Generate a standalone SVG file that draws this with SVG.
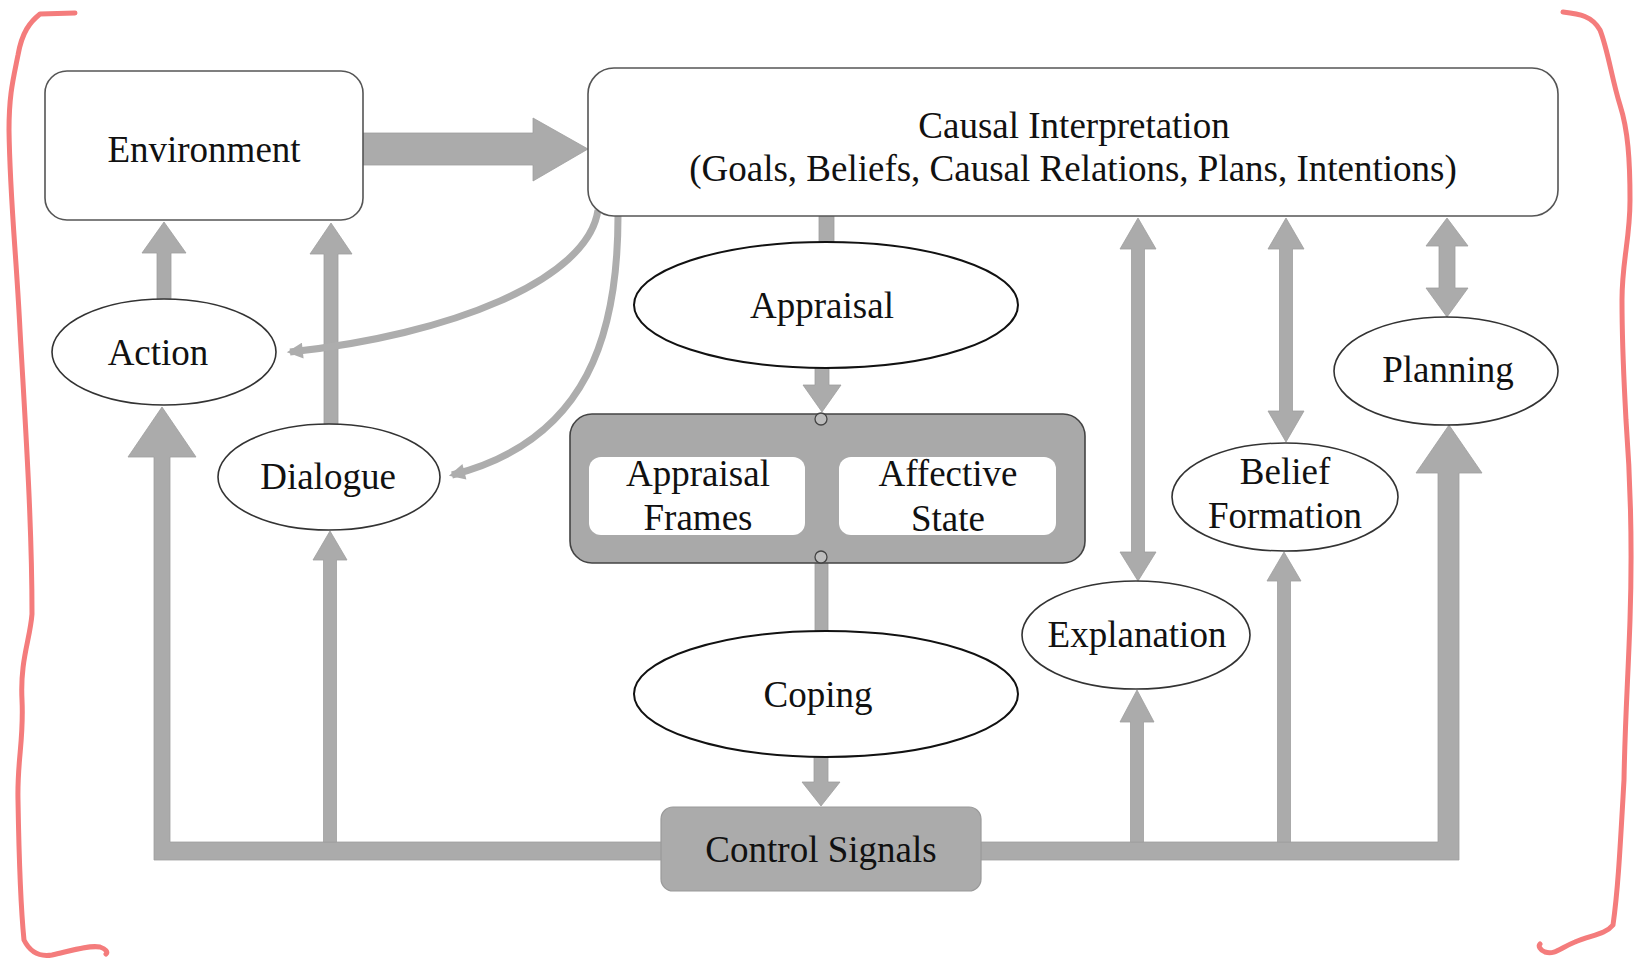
<svg xmlns="http://www.w3.org/2000/svg" width="1640" height="960" viewBox="0 0 1640 960">
<style>
.t{font-family:"Liberation Serif","Times New Roman",serif;font-size:37px;fill:#111;text-anchor:middle}
.ell{fill:#fff;stroke:#333;stroke-width:1.6}
.ell2{fill:#fff;stroke:#111;stroke-width:2}
.box{fill:#fff;stroke:#555;stroke-width:1.6}
.arr{fill:#ababab;stroke:#9e9e9e;stroke-width:0.8}
.curve{fill:none;stroke:#adadad;stroke-width:7}
.red{fill:none;stroke:#f47c7c;stroke-width:5;stroke-linecap:round;stroke-linejoin:round}
</style>
<defs>
<marker id="ah" viewBox="0 0 10 10" refX="8" refY="5" markerWidth="18" markerHeight="16" markerUnits="userSpaceOnUse" orient="auto">
<path d="M0,0 L10,5 L0,10 Z" fill="#adadad"/>
</marker>
</defs>
<rect width="1640" height="960" fill="#fff"/>

<g id="brackets">
<path class="red" d="M75,13 L40,14 C30,22 22,32 18,55 C13,80 9,95 9,130 C10,200 16,250 20,330 C25,420 32,520 32,614 C30,640 20,660 22,700 C24,740 17,760 18,800 C19,860 20,900 24,940 C30,952 40,957 52,955 C70,951 88,945 100,947 C106,949 108,952 106,954"/>
<path class="red" d="M1563,12 C1580,14 1592,16 1600,30 C1608,50 1612,80 1620,105 C1628,130 1630,160 1630,200 C1630,240 1622,260 1622,300 C1622,350 1624,380 1626,420 C1632,500 1632,560 1630,620 C1628,680 1625,720 1624,780 C1620,850 1618,890 1613,925 C1605,935 1590,935 1575,942 C1560,948 1555,955 1545,952 C1540,950 1538,946 1540,944"/>
</g>

<g id="connectors">
<!-- Environment -> Causal Interpretation -->
<polygon class="arr" points="363,133 533,133 533,118 588,149 533,181 533,165 363,165"/>
<!-- Action -> Environment -->
<polygon class="arr" points="157,300 157,253 142,253 164,222 186,253 171,253 171,300"/>
<!-- Dialogue -> Environment -->
<polygon class="arr" points="324,424 324,254 310,254 331,223 352,254 338,254 338,424"/>
<!-- Causal -> Action (curve) -->
<path class="curve" d="M598,210 C588,280 450,335 290,352" marker-end="url(#ah)"/>
<!-- Causal -> Dialogue (curve) -->
<path class="curve" d="M618,216 C618,330 590,440 452,475" marker-end="url(#ah)"/>
<!-- Causal -> Appraisal -->
<rect class="arr" x="819" y="216" width="15" height="27"/>
<!-- Appraisal -> Frames box -->
<polygon class="arr" points="815,367 829,367 829,385 841,385 822,412 803,385 815,385"/>
<!-- Frames box -> Coping -->
<rect class="arr" x="815" y="562" width="13" height="69"/>
<!-- Coping -> Control Signals -->
<polygon class="arr" points="814,756 828,756 828,782 840,782 821,806 802,782 814,782"/>
<!-- Control Signals -> Action (left bus) -->
<polygon class="arr" points="662,842 170,842 170,457 196,457 162,407 128,457 154,457 154,860 662,860"/>
<!-- bus -> Dialogue -->
<polygon class="arr" points="323.5,842 323.5,560 313,560 330,531 347,560 336.5,560 336.5,842"/>
<!-- Control Signals -> Planning (right bus) -->
<polygon class="arr" points="980,842 1438,842 1438,473 1416,473 1449,425 1482,473 1459,473 1459,860 980,860"/>
<!-- bus -> Explanation -->
<polygon class="arr" points="1130.5,842 1130.5,722 1120,722 1137,690 1154,722 1143.5,722 1143.5,842"/>
<!-- bus -> Belief Formation -->
<polygon class="arr" points="1277.5,842 1277.5,581 1267,581 1284,552 1301,581 1290.5,581 1290.5,842"/>
<!-- Causal <-> Explanation -->
<polygon class="arr" points="1138,218 1156,249 1144.5,249 1144.5,552 1156,552 1138,581 1120,552 1131.5,552 1131.5,249 1120,249"/>
<!-- Causal <-> Belief Formation -->
<polygon class="arr" points="1286,218 1304,249 1292.5,249 1292.5,411 1304,411 1286,442 1268,411 1279.5,411 1279.5,249 1268,249"/>
<!-- Causal <-> Planning -->
<polygon class="arr" points="1447,218 1468,246 1455,246 1455,288 1468,288 1447,317 1426,288 1439,288 1439,246 1426,246"/>
</g>

<g id="environment">
<rect class="box" x="45" y="71" width="318" height="149" rx="22"/>
<text class="t" x="204" y="162">Environment</text>
</g>

<g id="causal-interpretation">
<rect class="box" x="588" y="68" width="970" height="148" rx="26"/>
<text class="t" x="1074" y="138">Causal Interpretation</text>
<text class="t" x="1073" y="181">(Goals, Beliefs, Causal Relations, Plans, Intentions)</text>
</g>

<g id="action">
<ellipse class="ell" cx="164" cy="352" rx="112" ry="53"/>
<text class="t" x="158" y="365">Action</text>
</g>

<g id="dialogue">
<ellipse class="ell" cx="329" cy="477" rx="111" ry="53"/>
<text class="t" x="328" y="489">Dialogue</text>
</g>

<g id="appraisal">
<ellipse class="ell2" cx="826" cy="305" rx="192" ry="63"/>
<text class="t" x="822" y="318">Appraisal</text>
</g>

<g id="frames-state">
<rect x="570" y="414" width="515" height="149" rx="22" fill="#a9a9a9" stroke="#444" stroke-width="1.6"/>
<rect x="589" y="457" width="216" height="78" rx="12" fill="#fff"/>
<rect x="839" y="457" width="217" height="78" rx="12" fill="#fff"/>
<circle cx="821" cy="419" r="6" fill="#bdbdbd" stroke="#444" stroke-width="1.3"/>
<circle cx="821" cy="557" r="6" fill="#bdbdbd" stroke="#444" stroke-width="1.3"/>
<text class="t" x="698" y="486">Appraisal</text>
<text class="t" x="698" y="530">Frames</text>
<text class="t" x="948" y="486">Affective</text>
<text class="t" x="948" y="531">State</text>
</g>

<g id="coping">
<ellipse class="ell2" cx="826" cy="694" rx="192" ry="63"/>
<text class="t" x="818" y="707">Coping</text>
</g>

<g id="control-signals">
<rect x="661" y="807" width="320" height="84" rx="12" fill="#ababab" stroke="#9a9a9a" stroke-width="1.2"/>
<text class="t" x="821" y="862">Control Signals</text>
</g>

<g id="explanation">
<ellipse class="ell" cx="1136" cy="635" rx="114" ry="54"/>
<text class="t" x="1137" y="647">Explanation</text>
</g>

<g id="belief-formation">
<ellipse class="ell" cx="1285" cy="497" rx="113" ry="54"/>
<text class="t" x="1285" y="484">Belief</text>
<text class="t" x="1285" y="528">Formation</text>
</g>

<g id="planning">
<ellipse class="ell" cx="1446" cy="371" rx="112" ry="54"/>
<text class="t" x="1448" y="382">Planning</text>
</g>
</svg>
